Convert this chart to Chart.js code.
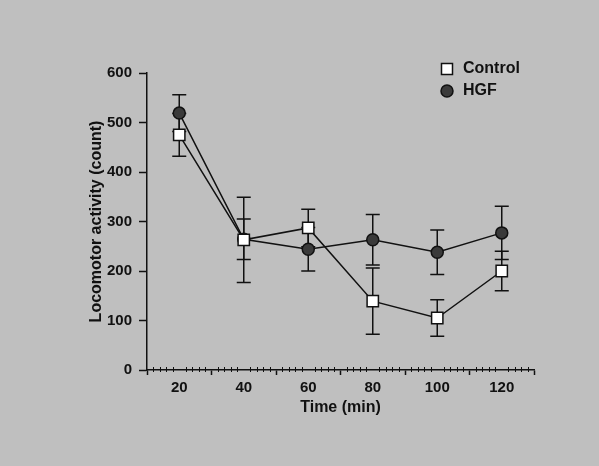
<!DOCTYPE html>
<html>
<head>
<meta charset="utf-8">
<script src="https://cdn.jsdelivr.net/npm/chart.js@4.4.1/dist/chart.umd.min.js"></script>
<style>
    html, body {
        margin: 0;
        padding: 0;
    }
    body {
        width: 599px;
        height: 466px;
        background-color: #bfbfbf;
    }
    #wrap {
        width: 599px;
        height: 466px;
        position: relative;
    }
</style>
</head>
<body>
<div id="wrap"><canvas id="locoChart"></canvas></div>
<script>
// data
const timePoints = [20, 40, 60, 80, 100, 120];
const controlMean = [475, 263, 287, 139, 105, 200];
const controlErr = [43, 86, 38, 67, 37, 40];
const hgfMean = [519, 264, 244, 263, 238, 277];
const hgfErr = [37, 41, 44, 51, 45, 54];

const yTickValues = [0, 100, 200, 300, 400, 500, 600];
const xTickValues = [10, 20, 30, 40, 50, 60, 70, 80, 90, 100, 110, 120, 130];
const xTickLabels = ['', '20', '', '40', '', '60', '', '80', '', '100', '', '120', ''];

const ink = '#111';
const fontFam = '"Liberation Sans", Arial, Helvetica, sans-serif';

function toPoints(xs, ys) {
    return xs.map(function (x, i) { return { x: x, y: ys[i] }; });
}

// error bars, drawn under the markers
const errorBars = {
    id: 'errorBars',
    beforeDatasetsDraw(chart) {
        const ctx = chart.ctx;
        const xs = chart.scales.x;
        const ys = chart.scales.y;
        const sets = [
            { mean: hgfMean, err: hgfErr },
            { mean: controlMean, err: controlErr }
        ];
        ctx.save();
        ctx.strokeStyle = ink;
        ctx.lineWidth = 1.5;
        sets.forEach(function (s) {
            timePoints.forEach(function (t, i) {
                const px = xs.getPixelForValue(t);
                const top = ys.getPixelForValue(s.mean[i] + s.err[i]);
                const bot = ys.getPixelForValue(s.mean[i] - s.err[i]);
                ctx.beginPath();
                ctx.moveTo(px, top);
                ctx.lineTo(px, bot);
                ctx.moveTo(px - 7, top);
                ctx.lineTo(px + 7, top);
                ctx.moveTo(px - 7, bot);
                ctx.lineTo(px + 7, bot);
                ctx.stroke();
            });
        });
        ctx.restore();
    }
};

// small minor ticks on the time axis + legend
const extras = {
    id: 'extras',
    afterDraw(chart) {
        const ctx = chart.ctx;
        const xs = chart.scales.x;
        const area = chart.chartArea;
        ctx.save();
        ctx.strokeStyle = ink;
        ctx.lineWidth = 1;
        for (let v = 12; v < 130; v += 2) {
            if (v % 10 === 0) continue;
            const px = Math.round(xs.getPixelForValue(v)) + 0.5;
            ctx.beginPath();
            ctx.moveTo(px, area.bottom - 3);
            ctx.lineTo(px, area.bottom + 2);
            ctx.stroke();
        }

        // legend
        const lx = area.right - 87;
        const ly = area.top - 4;
        ctx.lineWidth = 1.5;
        ctx.fillStyle = '#fff';
        ctx.fillRect(lx - 5.5, ly - 5.5, 11, 11);
        ctx.strokeRect(lx - 5.5, ly - 5.5, 11, 11);
        ctx.beginPath();
        ctx.arc(lx, ly + 22, 6, 0, Math.PI * 2);
        ctx.fillStyle = '#3a3a3a';
        ctx.fill();
        ctx.stroke();
        ctx.fillStyle = ink;
        ctx.font = 'bold 16px ' + fontFam;
        ctx.textBaseline = 'middle';
        ctx.fillText('Control', lx + 16, ly);
        ctx.fillText('HGF', lx + 16, ly + 22);
        ctx.restore();
    }
};

const ctx = document.getElementById('locoChart');

new Chart(ctx, {
    type: 'line',
    data: {
        datasets: [{
            label: 'Control',
            data: toPoints(timePoints, controlMean),
            borderColor: ink,
            borderWidth: 1.5,
            pointStyle: 'rect',
            pointRadius: 8,
            pointBackgroundColor: '#fff',
            pointBorderColor: ink,
            pointBorderWidth: 1.5,
            tension: 0
        }, {
            label: 'HGF',
            data: toPoints(timePoints, hgfMean),
            borderColor: ink,
            borderWidth: 1.5,
            pointStyle: 'circle',
            pointRadius: 6,
            pointBackgroundColor: '#3a3a3a',
            pointBorderColor: ink,
            pointBorderWidth: 1.5,
            tension: 0
        }]
    },
    options: {
        responsive: true,
        maintainAspectRatio: false,
        animation: false,
        layout: {
            padding: { left: 84, right: 65, top: 73, bottom: 0 }
        },
        plugins: {
            legend: { display: false },
            tooltip: { enabled: false }
        },
        scales: {
            x: {
                type: 'linear',
                min: 10,
                max: 130,
                afterBuildTicks: function (scale) {
                    scale.ticks = xTickValues.map(function (v) { return { value: v }; });
                },
                afterFit: function (scale) {
                    scale.height = 96;
                },
                ticks: {
                    autoSkip: false,
                    maxRotation: 0,
                    padding: 4,
                    color: ink,
                    font: { size: 15, weight: 'bold', family: fontFam },
                    callback: function (value) {
                        return xTickLabels[xTickValues.indexOf(value)];
                    }
                },
                grid: {
                    drawOnChartArea: false,
                    tickLength: 5,
                    tickWidth: 1.5,
                    tickColor: function (c) {
                        return (c.tick && c.tick.value % 20 === 10) ? ink : 'rgba(0,0,0,0)';
                    }
                },
                border: { color: ink, width: 1.5 },
                title: {
                    display: true,
                    text: 'Time (min)',
                    color: ink,
                    font: { size: 16, weight: 'bold', family: fontFam },
                    padding: { top: 2, bottom: 49 }
                }
            },
            y: {
                min: 0,
                max: 600,
                afterBuildTicks: function (scale) {
                    scale.ticks = yTickValues.map(function (v) { return { value: v }; });
                },
                afterFit: function (scale) {
                    scale.width = 63;
                },
                ticks: {
                    padding: 7,
                    color: ink,
                    font: { size: 15, weight: 'bold', family: fontFam }
                },
                grid: {
                    drawOnChartArea: false,
                    tickLength: 8,
                    tickWidth: 1.5,
                    tickColor: ink
                },
                border: { color: ink, width: 1.5 },
                title: {
                    display: true,
                    text: 'Locomotor activity (count)',
                    color: ink,
                    font: { size: 16, weight: 'bold', family: fontFam },
                    padding: { top: 3, bottom: 0 }
                }
            }
        }
    },
    plugins: [errorBars, extras]
});
</script>
</body>
</html>
